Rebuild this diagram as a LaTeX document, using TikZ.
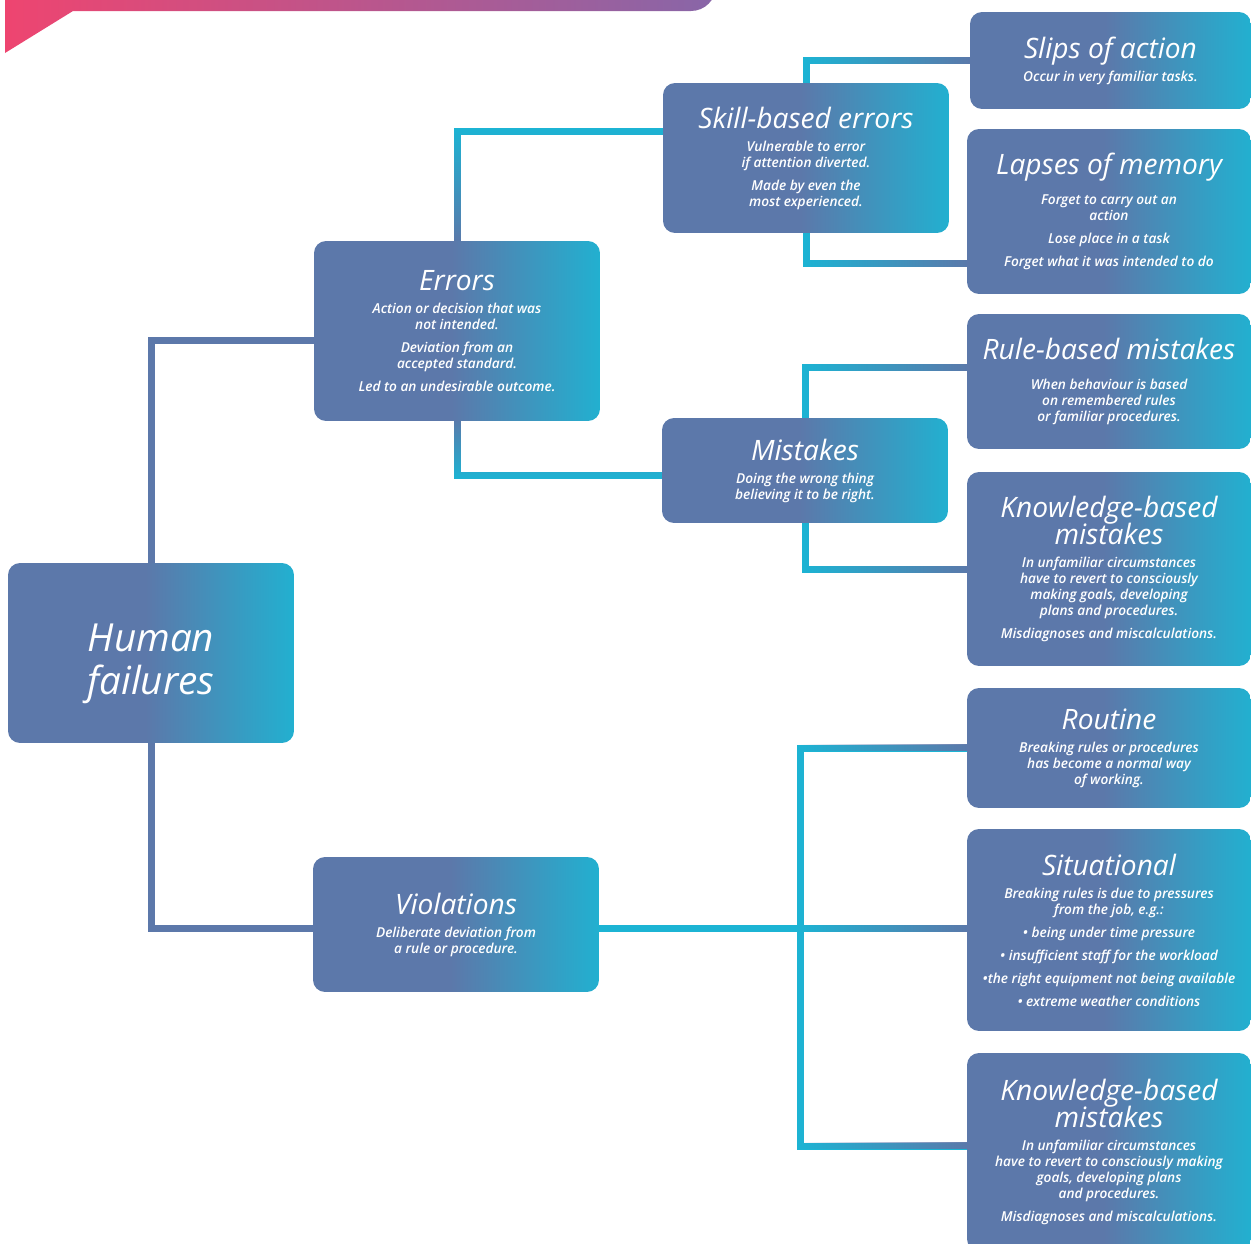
\documentclass[tikz,border=0pt]{standalone}
\usepackage{fontspec}
\setmainfont{Open Sans}
\newfontfamily\ttlfont{Open Sans Italic}
\IfFontExistsTF{Open Sans Semibold Italic}{\newfontfamily\bdyfont{Open Sans Semibold Italic}}{%
  \IfFontExistsTF{Open Sans SemiBold Italic}{\newfontfamily\bdyfont{Open Sans SemiBold Italic}}{%
    \newfontfamily\bdyfont{Open Sans Italic}[FakeBold=0.6]}}
\usetikzlibrary{calc,fadings}

\definecolor{slate}{HTML}{5C78AA}
\definecolor{boxcyan}{HTML}{22B0D0}
\definecolor{linkcyan}{HTML}{1CB4D4}
\definecolor{bannerpink}{HTML}{EE4570}
\definecolor{bannerpurple}{HTML}{8866A8}

\pgfdeclarehorizontalshading{boxshade}{100bp}{color(0bp)=(slate); color(25bp)=(slate); color(49bp)=(slate); color(75bp)=(boxcyan); color(100bp)=(boxcyan)}
\tikzfading[name=slateright, left color=transparent!100, middle color=transparent!85, right color=transparent!0]
\tikzfading[name=slatebottom, top color=transparent!100, middle color=transparent!70, bottom color=transparent!0]
\tikzfading[name=slatetop, top color=transparent!0, middle color=transparent!70, bottom color=transparent!100]

% line break and text faces inside the boxes
\newcommand\brk[1][0pt]{\par\vspace{#1}}
\newcommand\ttl{\parindent0pt\lineskiplimit-\maxdimen\fontsize{16}{15}\selectfont\ttlfont\spaceskip.26em\xspaceskip.26em\let\\\brk}
\newcommand\bdy[1][4pt]{\par\vspace{#1}\parindent0pt\lineskiplimit-\maxdimen\fontsize{7.8}{9.1}\selectfont\bdyfont\spaceskip.26em\xspaceskip.26em\let\\\brk}

\begin{document}
\begin{tikzpicture}[x=0.02cm, y=-0.02cm,
  box/.style={shading=boxshade, rounded corners=0.24cm, inner sep=0pt, align=center, text=white},
  lbox/.style={box, minimum width=5.72cm, text width=5.5cm},
  rbox/.style={box, minimum width=5.68cm, text width=5.6cm},
  link/.style={line width=0.14cm, draw=linkcyan},
  slatelink/.style={line width=0.14cm, draw=slate},
  fadelink/.style={link, postaction={draw=slate, path fading=#1}}]
\useasboundingbox (0,0) rectangle (1251,1244);
\clip (0,0) rectangle (1251,1244);

% banner
\shade[left color=bannerpink, right color=bannerpurple] (5,-10) -- (5,53) -- (73,11) [rounded corners=0.5cm] -- (716,11) -- (716,-40) [sharp corners] -- (5,-40) -- cycle;

% left column
\node[lbox, minimum height=3.6cm] (hf) at (151,653) {\vskip4pt\parindent0pt\fontsize{22}{24}\selectfont\ttlfont\spaceskip.26em Human\par failures\par};
\node[lbox, minimum height=3.6cm] (errors) at (457,331) {\ttl Errors\bdy Action or decision that was\\not intended.\\[4pt]Deviation from an\\accepted standard.\\[4pt]Led to an undesirable outcome.\par};
\node[lbox, minimum height=2.7cm] (viol) at (456,924.5) {\ttl Violations\bdy Deliberate deviation from\\a rule or procedure.\par};
\node[lbox, minimum height=3cm] (skill) at (806,158) {\ttl Skill-based errors\bdy Vulnerable to error\\if attention diverted.\\[4pt]Made by even the\\most experienced.\par};
\node[lbox, minimum height=2.1cm] (mistakes) at (805,470.5) {\ttl Mistakes\bdy Doing the wrong thing\\believing it to be right.\par};

% right column
\node[rbox, minimum width=5.62cm, minimum height=1.94cm] (slips) at (1110.5,60.5) {\ttl Slips of action\bdy Occur in very familiar tasks.\par};
\node[rbox, minimum height=3.3cm] (lapses) at (1109,211.5) {\ttl Lapses of memory\bdy[8pt] Forget to carry out an\\action\\[4pt]Lose place in a task\\[4pt]Forget what it was intended to do\par};
\node[rbox, minimum height=2.7cm] (rule) at (1109,381.5) {\ttl Rule-based mistakes\bdy[8pt] When behaviour is based\\on remembered rules\\or familiar procedures.\par};
\node[rbox, minimum height=3.88cm] (know1) at (1109,569) {\ttl Knowledge-based\\mistakes\bdy In unfamiliar circumstances\\have to revert to consciously\\making goals, developing\\plans and procedures.\\[4pt]Misdiagnoses and miscalculations.\par};
\node[rbox, minimum height=2.4cm] (routine) at (1109,748) {\ttl Routine\bdy Breaking rules or procedures\\has become a normal way\\of working.\par};
\node[rbox, minimum height=4.04cm] (sit) at (1109,930) {\ttl Situational\bdy Breaking rules is due to pressures\\from the job, e.g.:\\[4pt]• being under time pressure\\[4pt]• insufficient staff for the workload\\[4pt]•the right equipment not being available\\[4pt]• extreme weather conditions\par};
\node[rbox, minimum height=3.96cm] (know2) at (1109,1152) {\ttl Knowledge-based\\mistakes\bdy In unfamiliar circumstances\\have to revert to consciously making\\goals, developing plans\\and procedures.\\[4pt]Misdiagnoses and miscalculations.\par};

% connectors
\draw[slatelink] (hf.north) |- ($(errors.west)+(0,9)$);
\draw[slatelink] (hf.south) |- ($(viol.west)+(0,4)$);
\draw[fadelink=slatebottom] (errors.north) |- ($(skill.north west)+(0,49)$);
\draw[fadelink=slatetop] (errors.south) |- ($(mistakes.west)+(0,5)$);
\draw[fadelink=slateright] (skill.north) |- (slips.west);
\draw[fadelink=slateright] (skill.south) |- ($(lapses.south west)+(0,-31)$);
\draw[fadelink=slateright] (mistakes.north) |- ($(rule.north west)+(0,54)$);
\draw[fadelink=slateright] (mistakes.south) |- (know1.west);
\coordinate (vsplit) at ($(viol.east)+(201,4)$);
\draw[link] ($(viol.east)+(0,4)$) -- (vsplit);
\draw[fadelink=slateright] (vsplit) -- (vsplit -| sit.west);
\draw[fadelink=slateright] (vsplit) |- (routine.west);
\draw[fadelink=slateright] (vsplit) |- ($(know2.west)+(0,-6)$);
\end{tikzpicture}
\end{document}
